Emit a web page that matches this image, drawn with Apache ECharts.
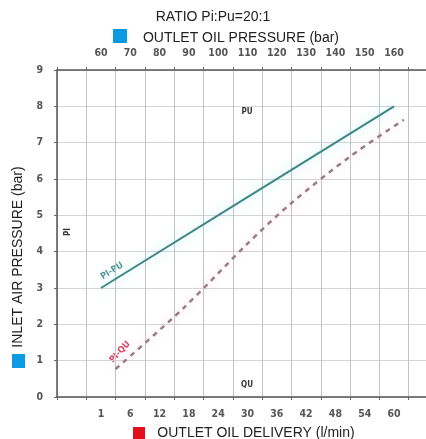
<!DOCTYPE html>
<html>
<head>
<meta charset="utf-8">
<script src="https://cdn.jsdelivr.net/npm/echarts@6/dist/echarts.min.js"></script>
<style>
  html, body { margin: 0; background: #fff; }
  #chart { width: 426px; height: 439px; }
</style>
</head>
<body>
<div id="chart"></div>
<script>
// column labels (first and last columns are blank)
const deliveryLabels = ['', '1', '6', '12', '18', '24', '30', '36', '42', '48', '54', '60', '']
const pressureLabels = ['', '60', '70', '80', '90', '100', '110', '120', '130', '140', '150', '160', '']

// Pi-Pu : outlet oil pressure (bar) -> inlet air pressure (bar)
const piPuPressure = [60, 110, 160]
const piPuInlet = [3, 5.5, 8]

// Pi-Qu : outlet oil delivery (l/min) -> inlet air pressure (bar)
const piQuDelivery = [3, 17, 30, 39, 51, 62]
const piQuInlet = [0.77, 2.46, 4.22, 5.34, 6.62, 7.63]

const tickFont = "'Liberation Sans Narrow', 'DejaVu Sans Condensed', sans-serif"
const nameFont = "'Liberation Sans', Arial, sans-serif"

const chart = echarts.init(document.getElementById('chart'))

const option = {
  animation: false,
  // plot runs past the right edge of the picture, like the original
  grid: { left: 57, top: 70, width: 381, height: 327, outerBoundsMode: 'none', containLabel: false },
  xAxis: [
    {
      type: 'category',
      position: 'bottom',
      data: deliveryLabels,
      boundaryGap: true,
      axisLine: { onZero: false, lineStyle: { color: '#555', width: 1.5 } },
      axisTick: { show: true, length: 3, lineStyle: { color: '#666' } },
      axisLabel: { color: '#555', fontSize: 10.5, fontWeight: 'bold', fontFamily: tickFont, margin: 12 },
      splitLine: { show: true, lineStyle: { color: '#c4c4c4', width: 1 } },
    },
    {
      type: 'category',
      position: 'top',
      data: pressureLabels,
      boundaryGap: true,
      axisLine: { onZero: false, lineStyle: { color: '#555', width: 1.5 } },
      axisTick: { show: true, length: 3, lineStyle: { color: '#666' } },
      axisLabel: { color: '#555', fontSize: 10.5, fontWeight: 'bold', fontFamily: tickFont, margin: 11 },
      splitLine: { show: false },
    },
    // hidden value axes used to place the lines
    { type: 'value', show: false, min: 45, max: 175 },
    { type: 'value', show: false, min: -9, max: 69 },
  ],
  yAxis: {
    type: 'value',
    min: 0,
    max: 9,
    interval: 1,
    axisLine: { show: true, onZero: false, lineStyle: { color: '#555', width: 1.5 } },
    axisTick: { show: true, length: 3, lineStyle: { color: '#666' } },
    axisLabel: { color: '#555', fontSize: 10.5, fontWeight: 'bold', fontFamily: tickFont, margin: 14 },
    splitLine: { show: true, lineStyle: { color: '#d4d4d4', width: 1 } },
  },
  series: [
    {
      name: 'Pi-Pu',
      type: 'line',
      xAxisIndex: 2,
      data: piPuPressure.map((p, i) => [p, piPuInlet[i]]),
      showSymbol: false,
      lineStyle: {
        color: '#3f8787',
        width: 2,
        shadowColor: 'rgba(120, 225, 235, 0.6)',
        shadowBlur: 12,
      },
      z: 3,
    },
    {
      name: 'Pi-Qu',
      type: 'line',
      xAxisIndex: 3,
      data: piQuDelivery.map((q, i) => [q, piQuInlet[i]]),
      smooth: 0.3,
      showSymbol: false,
      lineStyle: {
        color: '#9a7c86',
        width: 2.5,
        type: [5, 5],
        shadowColor: 'rgba(245, 170, 195, 0.6)',
        shadowBlur: 12,
      },
      z: 3,
    },
  ],
  graphic: [
    { type: 'text', left: 'center', top: 10, style: { text: 'RATIO Pi:Pu=20:1', font: '14px ' + nameFont, fill: '#222' } },
    { type: 'rect', shape: { x: 113, y: 29, width: 14, height: 14 }, style: { fill: '#0b9be2' } },
    { type: 'text', x: 241, y: 38, style: { text: 'OUTLET OIL PRESSURE (bar)', font: '14px ' + nameFont, fill: '#222', align: 'center', verticalAlign: 'middle' } },
    { type: 'rect', shape: { x: 133, y: 427, width: 12, height: 12 }, style: { fill: '#e1101c' } },
    { type: 'text', x: 256, y: 433, style: { text: 'OUTLET OIL DELIVERY (l/min)', font: '14px ' + nameFont, fill: '#222', align: 'center', verticalAlign: 'middle' } },
    { type: 'rect', shape: { x: 12, y: 354, width: 13, height: 14 }, style: { fill: '#0b9be2' } },
    { type: 'text', x: 18, y: 257, rotation: Math.PI / 2, style: { text: 'INLET AIR PRESSURE (bar)', font: '14px ' + nameFont, fill: '#222', align: 'center', verticalAlign: 'middle' } },
    // in-plot labels
    { type: 'text', x: 68, y: 232, rotation: Math.PI / 2, style: { text: 'PI', font: 'bold 8px ' + tickFont, fill: '#333', align: 'center', verticalAlign: 'middle' } },
    { type: 'text', x: 247, y: 112, style: { text: 'PU', font: 'bold 8px ' + tickFont, fill: '#333', align: 'center', verticalAlign: 'middle' } },
    { type: 'text', x: 247, y: 385, style: { text: 'QU', font: 'bold 8px ' + tickFont, fill: '#333', align: 'center', verticalAlign: 'middle' } },
    { type: 'text', x: 112, y: 271, rotation: 32 * Math.PI / 180, style: { text: 'PI-PU', font: 'bold 9px ' + tickFont, fill: '#4f9595', align: 'center', verticalAlign: 'middle' } },
    { type: 'text', x: 120, y: 352, rotation: 47 * Math.PI / 180, style: { text: 'PI-QU', font: 'bold 9px ' + tickFont, fill: '#e0405e', align: 'center', verticalAlign: 'middle' } },
  ],
}

chart.setOption(option)
</script>
</body>
</html>
